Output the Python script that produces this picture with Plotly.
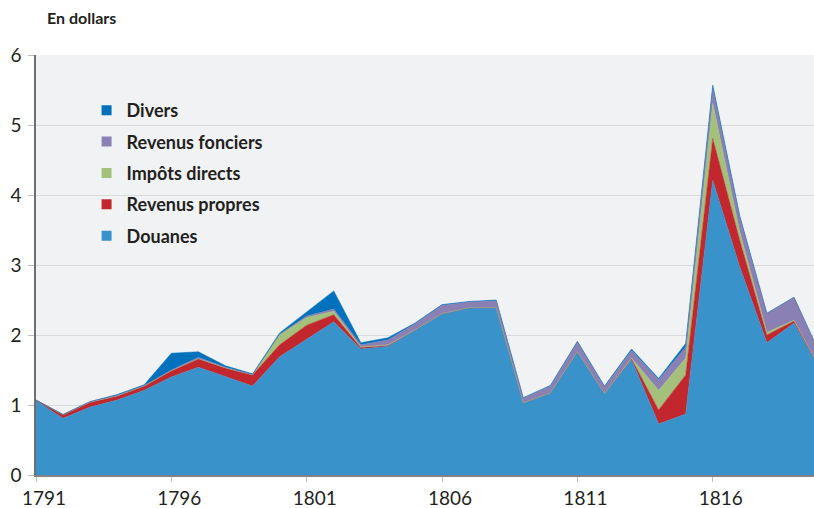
import plotly.graph_objects as go

# Années
annees = list(range(1791, 1821))

# Recettes (en dollars)
douanes = [1.06, 0.81, 0.97, 1.07, 1.21, 1.40, 1.54, 1.41, 1.27, 1.69,
           1.94, 2.19, 1.80, 1.84, 2.07, 2.30, 2.39, 2.39, 1.03, 1.17,
           1.76, 1.16, 1.65, 0.73, 0.87, 4.21, 2.97, 1.89, 2.17, 1.48]
revenus_propres = [0.01, 0.05, 0.07, 0.06, 0.06, 0.09, 0.12, 0.12, 0.16, 0.17,
                   0.20, 0.10, 0.02, 0.01, 0.00, 0.005, 0.00, 0.00, 0.00, 0.00,
                   0.00, 0.00, 0.01, 0.20, 0.56, 0.60, 0.38, 0.11, 0.03, 0.02]
impots_directs = [0.00, 0.00, 0.00, 0.00, 0.00, 0.00, 0.00, 0.00, 0.00, 0.14,
                  0.11, 0.05, 0.01, 0.01, 0.00, 0.00, 0.00, 0.00, 0.00, 0.00,
                  0.00, 0.00, 0.01, 0.28, 0.24, 0.50, 0.12, 0.04, 0.01, 0.00]
revenus_fonciers = [0.00, 0.005, 0.01, 0.01, 0.01, 0.01, 0.02, 0.01, 0.005, 0.01,
                    0.02, 0.03, 0.03, 0.07, 0.09, 0.12, 0.08, 0.10, 0.07, 0.10,
                    0.14, 0.10, 0.11, 0.15, 0.16, 0.22, 0.21, 0.27, 0.33, 0.20]
divers = [0.00, 0.00, 0.00, 0.01, 0.01, 0.24, 0.08, 0.02, 0.01, 0.02,
          0.06, 0.26, 0.03, 0.03, 0.01, 0.01, 0.01, 0.01, 0.005, 0.01,
          0.01, 0.01, 0.02, 0.02, 0.05, 0.04, 0.02, 0.00, 0.00, 0.00]

x_ticks = [1791, 1796, 1801, 1806, 1811, 1816]

series = [
    ("Douanes", douanes, "#3a92cb"),
    ("Revenus propres", revenus_propres, "#c1272d"),
    ("Impôts directs", impots_directs, "#a4c17b"),
    ("Revenus fonciers", revenus_fonciers, "#8b80b3"),
    ("Divers", divers, "#0071bc"),
]

fig = go.Figure()

# Aires empilées
for nom, valeurs, couleur in series:
    fig.add_trace(go.Scatter(
        x=annees, y=valeurs, name=nom,
        stackgroup="recettes", mode="lines",
        line=dict(color=couleur, width=0.5),
        fillcolor=couleur, showlegend=False,
    ))

# Légende avec carrés (ordre inverse de l'empilement)
for i, (nom, valeurs, couleur) in enumerate(reversed(series)):
    fig.add_trace(go.Scatter(
        x=[None], y=[None], name=nom, mode="markers",
        marker=dict(symbol="square", size=10, color=couleur),
        legendgroup=f"g{i}",
    ))

fig.update_layout(
    width=814, height=508,
    margin=dict(l=36, r=0, t=55, b=33),
    paper_bgcolor="white",
    plot_bgcolor="#f1f2f4",
    font=dict(family="Lato", color="#231f20"),
    showlegend=True,
    legend=dict(
        x=0.065, y=0.912, xanchor="left", yanchor="top",
        bgcolor="rgba(0,0,0,0)",
        font=dict(size=18, family="Lato", weight="bold"),
        traceorder="grouped", tracegroupgap=5,
    ),
    annotations=[dict(
        text="<b>En dollars</b>", xref="paper", yref="paper",
        x=0.012, y=1.09, xanchor="left", yanchor="middle",
        showarrow=False, font=dict(size=16, color="#231f20"),
    )],
)

fig.update_xaxes(
    range=[1791, 1819.74],
    tickvals=x_ticks,
    tickfont=dict(size=19),
    ticks="outside", ticklen=5, tickcolor="#bcbec0",
    ticklabelshift=8, ticklabelstandoff=0,
    showline=True, linecolor="#808285", linewidth=1.5,
    showgrid=False, zeroline=False,
    automargin=False,
)
fig.update_yaxes(
    range=[0, 6],
    dtick=1,
    tickfont=dict(size=19),
    ticks="outside", ticklen=6, tickcolor="#bcbec0",
    showline=True, linecolor="#6d6e71", linewidth=1.5,
    gridcolor="#d9dadc", gridwidth=1,
    zeroline=False,
    ticklabelstandoff=3,
    automargin=False,
)

# marge par défaut du <body> supprimée pour caler la figure dans la fenêtre
fig.write_html(
    "out.html",
    config={"displayModeBar": False},
    post_script="document.body.style.margin='0px';",
)
